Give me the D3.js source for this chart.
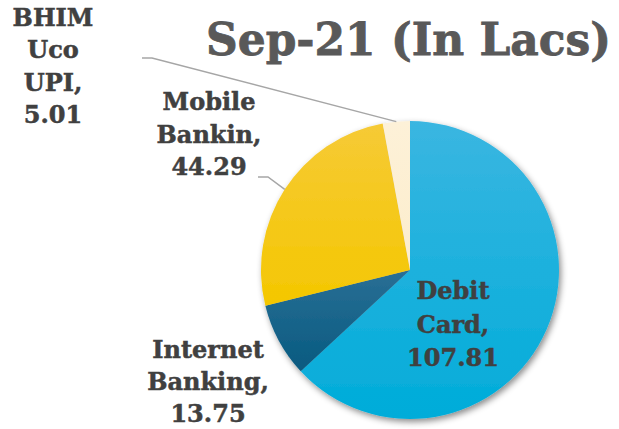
<!DOCTYPE html>
<html>
<head>
<meta charset="utf-8">
<script src="https://cdn.jsdelivr.net/npm/d3@7"></script>
<style>
  html, body { margin: 0; padding: 0; background: #ffffff; }
  svg { display: block; }
  text { font-family: "DejaVu Serif", "Liberation Serif", serif; font-weight: bold; }
</style>
</head>
<body>
<svg id="chart" width="619" height="429"></svg>
<script>
// Digital transaction channels, September 2021 (in lakhs)
const categories = ["Debit Card", "Internet Banking", "Mobile Bankin", "BHIM Uco UPI"];
const values = [107.81, 13.75, 44.29, 5.01];
const titleText = "Sep-21 (In Lacs)";

const colorsTop = ["#3ab6e1", "#2a6f95", "#f6ca36", "#fdf1d8"];
const colorsBottom = ["#00acd9", "#075a80", "#f4c700", "#fcedcc"];

const svg = d3.select("#chart");
const cx = 410, cy = 270, radius = 149;

const defs = svg.append("defs");
const shadow = defs.append("filter").attr("id", "pieShadow")
  .attr("x", "-20%").attr("y", "-20%").attr("width", "140%").attr("height", "140%");
shadow.append("feDropShadow")
  .attr("dx", 2).attr("dy", 3).attr("stdDeviation", 3)
  .attr("flood-color", "#000").attr("flood-opacity", 0.45);

categories.forEach((c, i) => {
  const g = defs.append("linearGradient").attr("id", "grad" + i)
    .attr("x1", 0).attr("y1", 0).attr("x2", 0).attr("y2", 1);
  g.append("stop").attr("offset", "0%").attr("stop-color", colorsTop[i]);
  g.append("stop").attr("offset", "100%").attr("stop-color", colorsBottom[i]);
});

const data = categories.map((c, i) => ({ name: c, value: values[i], idx: i }));
const pie = d3.pie().sort(null).value(d => d.value).startAngle(0).endAngle(2 * Math.PI);
const arcs = pie(data);
const arc = d3.arc().innerRadius(0).outerRadius(radius);
const edgeArc = d3.arc().innerRadius(radius).outerRadius(radius);

const pieG = svg.append("g").attr("transform", `translate(${cx},${cy})`)
  .attr("filter", "url(#pieShadow)");
pieG.selectAll("path.slice").data(arcs).join("path")
  .attr("class", "slice")
  .attr("d", arc)
  .attr("fill", d => `url(#grad${d.data.idx})`);

// Title
svg.append("text")
  .attr("x", 206).attr("y", 55)
  .attr("font-size", 44)
  .attr("fill", "#595959")
  .attr("stroke", "#595959")
  .attr("stroke-width", 0.8)
  .attr("textLength", 405)
  .attr("lengthAdjust", "spacingAndGlyphs")
  .text(titleText);

// Label layout: position of each label block and its text lines
const fmt = v => d3.format(".2f")(v);
const labelLines = d => {
  const words = d.data.name.split(" ");
  const lines = words.slice();
  lines[lines.length - 1] = lines[lines.length - 1] + ",";
  lines.push(fmt(d.data.value));
  return lines;
};
const labelPos = [
  { x: 453, y: 299, dy: 33.5 },
  { x: 208, y: 358, dy: 32 },
  { x: 209, y: 110, dy: 32.5 },
  { x: 53, y: 26, dy: 32.3 }
];
// Leader line elbows for labels placed outside the pie
const leaders = [null, null, { ex: 258, ey: 177, kx: 268 }, { ex: 142, ey: 58, kx: 152 }];

arcs.forEach((d, i) => {
  const L = leaders[i];
  if (L) {
    const [px, py] = edgeArc.centroid(d);
    svg.append("polyline")
      .attr("points", `${L.ex},${L.ey} ${L.kx},${L.ey} ${cx + px},${cy + py}`)
      .attr("fill", "none")
      .attr("stroke", "#a6a6a6")
      .attr("stroke-width", 1.5);
  }
});

arcs.forEach((d, i) => {
  const p = labelPos[i];
  const t = svg.append("text")
    .attr("text-anchor", "middle")
    .attr("font-size", 24)
    .attr("fill", "#404040")
    .attr("stroke", "#404040")
    .attr("stroke-width", 0.5);
  labelLines(d).forEach((line, k) => {
    t.append("tspan").attr("x", p.x).attr("y", p.y + k * p.dy).text(line);
  });
});
</script>
</body>
</html>
